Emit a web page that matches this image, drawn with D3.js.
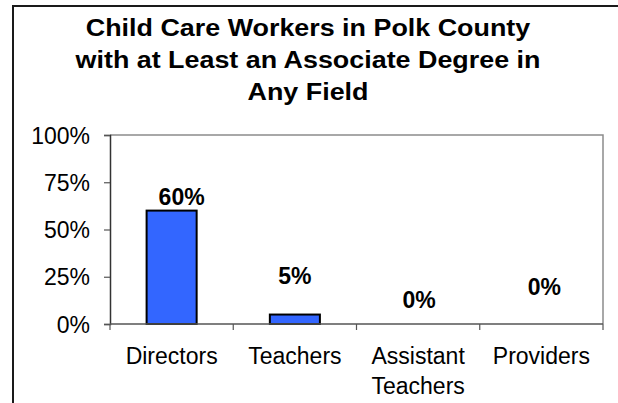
<!DOCTYPE html>
<html>
<head>
<meta charset="utf-8">
<script src="https://cdn.jsdelivr.net/npm/d3@7/dist/d3.min.js"></script>
<style>
  html, body { margin: 0; padding: 0; background: #fff; }
  svg { display: block; }
  text { font-family: "Liberation Sans", Arial, sans-serif; fill: #000; }
</style>
</head>
<body>
<svg id="chart" width="618" height="403"></svg>
<script>
// ---- data ----
const titleLines = ["Child Care Workers in Polk County", "with at Least an Associate Degree in", "Any Field"];
const categories = ["Directors", "Teachers", "Assistant Teachers", "Providers"];
const categoryLines = [["Directors"], ["Teachers"], ["Assistant", "Teachers"], ["Providers"]];
const values = [0.60, 0.05, 0.00, 0.00];
const valueLabels = ["60%", "5%", "0%", "0%"];
const yTicks = [0, 0.25, 0.5, 0.75, 1];

// ---- layout (not data) ----
const W = 618, H = 403;
const plot = { left: 110, right: 603, top: 135, bottom: 324 };
const labelLift = [5.6, 31, 16.5, 29];   // baseline distance above value position
const labelShift = [10, 0, 1, 3];        // horizontal nudges of value labels
const barPad = 0.594;

const svg = d3.select("#chart");
svg.append("rect").attr("width", W).attr("height", H).attr("fill", "#fff");

// outer chart frame
svg.append("rect")
  .attr("x", 13).attr("y", 6).attr("width", 640).attr("height", 440)
  .attr("fill", "none").attr("stroke", "#1a1a1a").attr("stroke-width", 2);

// title
const cx = 308;
svg.append("g").selectAll("text").data(titleLines).join("text")
  .attr("transform", (d, i) => `translate(${cx},${36 + i * 32}) scale(1.12,1)`)
  .attr("text-anchor", "middle")
  .style("font-size", "24px").style("font-weight", "bold")
  .text(d => d);

const x = d3.scaleBand().domain(categories)
  .range([plot.left, plot.right])
  .paddingInner(barPad).paddingOuter(barPad / 2);
const y = d3.scaleLinear().domain([0, 1]).range([plot.bottom, plot.top]);

// plot border (top and right)
svg.append("path")
  .attr("d", `M${plot.left},${plot.top}H${plot.right}V${plot.bottom}`)
  .attr("fill", "none").attr("stroke", "#8c8c8c").attr("stroke-width", 1.5);

// bars
svg.append("g").selectAll("rect").data(values).join("rect")
  .attr("x", (d, i) => x(categories[i]))
  .attr("y", d => y(d))
  .attr("width", x.bandwidth())
  .attr("height", d => y(0) - y(d))
  .attr("fill", "#3366ff")
  .attr("stroke", "#000").attr("stroke-width", 2)
  .attr("display", d => d > 0 ? null : "none");

// y axis
const yAxis = svg.append("g")
  .attr("transform", `translate(${plot.left},0)`)
  .call(d3.axisLeft(y).tickValues(yTicks).tickFormat(d3.format(".0%"))
    .tickSize(6).tickPadding(14));
yAxis.select(".domain").attr("stroke", "#333").attr("stroke-width", 1.5);
yAxis.selectAll(".tick line").attr("stroke", "#555").attr("stroke-width", 1.2);
yAxis.selectAll(".tick text").style("font-size", "23px")
  .style("font-family", "'Liberation Sans', Arial, sans-serif").attr("dy", "0.35em");

// x axis
const step = x.step();
const bounds = categories.map(c => x(c) - step * barPad / 2).concat([plot.right]);
const xAxis = svg.append("g");
xAxis.append("line")
  .attr("x1", plot.left).attr("x2", plot.right)
  .attr("y1", plot.bottom).attr("y2", plot.bottom)
  .attr("stroke", "#555").attr("stroke-width", 1.5);
xAxis.selectAll("line.tk").data(bounds).join("line").attr("class", "tk")
  .attr("x1", d => d).attr("x2", d => d)
  .attr("y1", plot.bottom).attr("y2", plot.bottom + 6)
  .attr("stroke", "#555").attr("stroke-width", 1.2);
const xl = xAxis.selectAll("text").data(categoryLines).join("text")
  .attr("text-anchor", "middle")
  .style("font-size", "23px")
  .attr("transform", (d, i) => `translate(${x(categories[i]) + x.bandwidth() / 2},364)`);
xl.selectAll("tspan").data(d => d).join("tspan")
  .attr("x", 0).attr("y", (d, j) => j * 30).text(d => d);

// value labels
svg.append("g").selectAll("text").data(values).join("text")
  .attr("x", (d, i) => x(categories[i]) + x.bandwidth() / 2 + labelShift[i])
  .attr("y", (d, i) => y(d) - labelLift[i])
  .attr("text-anchor", "middle")
  .style("font-size", "23px").style("font-weight", "bold")
  .text((d, i) => valueLabels[i]);
</script>
</body>
</html>
